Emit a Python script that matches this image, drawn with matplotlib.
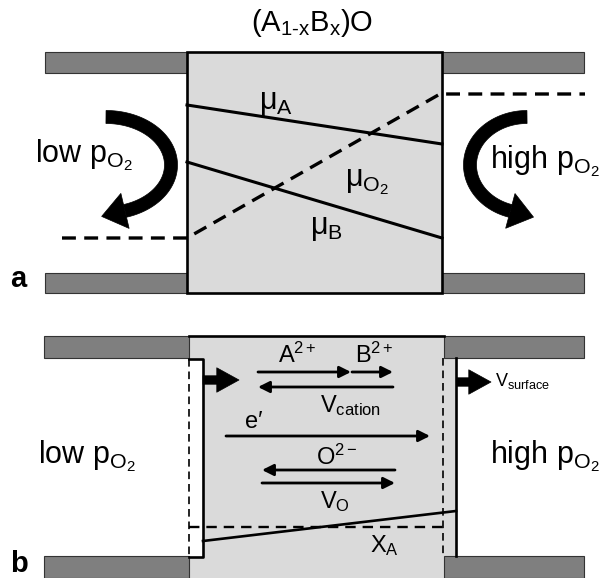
import numpy as np
import matplotlib
matplotlib.use('Agg')
import matplotlib.pyplot as plt
from matplotlib.patches import Rectangle, Polygon

plt.rcParams['font.family'] = ['Liberation Sans', 'DejaVu Sans']
plt.rcParams['mathtext.fontset'] = 'custom'
plt.rcParams['mathtext.rm'] = 'Liberation Sans'
plt.rcParams['mathtext.it'] = 'Liberation Sans'
plt.rcParams['mathtext.bf'] = 'Liberation Sans:bold'
plt.rcParams['mathtext.default'] = 'regular'
plt.rcParams['lines.scale_dashes'] = False

# ---- schematic geometry (pixel coordinates, y grows downward) ----
# panel a
a_bars = [(45, 52, 142, 21), (442, 52, 142, 21), (45, 273, 142, 20), (442, 273, 142, 20)]
a_box = (187, 52, 255, 241)
a_mu_lines = [((187, 105), (442, 144)), ((187, 162), (442, 238))]
a_o2_dashed = [(62, 238), (187, 238), (440, 94), (585, 94)]
a_labels = [('$μ_A$', 259, 109), ('$μ_{O_2}$', 345, 186), ('$μ_B$', 310, 234)]
# curved arrows: centre x, centre y, rx, ry, start angle, end angle
a_curved = [(106, 165, 65, 48, 90, -73), (527, 165, 57, 48, 90, 253)]

# panel b
b_bars = [(44, 336, 145, 22), (444, 336, 140, 22), (44, 556, 145, 22), (444, 556, 140, 22)]
b_box = (189, 336, 255, 242)
b_thin_arrows = [((258, 372), (351, 372)), ((352, 372), (393, 372)), ((393, 387), (258, 387)),
                 ((226, 436), (430, 436)), ((395, 470), (262, 470)), ((262, 483), (395, 483))]
b_thick_arrows = [((203, 380), (239, 380)), ((457, 382), (491, 382))]
b_labels = [('A$^{2+}$', 278, 363, 17), ('B$^{2+}$', 355, 363, 17), ('V$_{cation}$', 320, 412, 17),
            ('e′', 245, 428, 17), ('O$^{2-}$', 316, 465, 17), ('V$_O$', 320, 508, 17),
            ('X$_A$', 370, 552, 17), ('V$_{surface}$', 495, 386, 13)]

fig = plt.figure(figsize=(6.04, 5.78), dpi=100)
ax = fig.add_axes([0, 0, 1, 1])
ax.set_xlim(0, 604)
ax.set_ylim(578, 0)
ax.axis('off')

BAR = '#7f7f7f'
BOX = '#dadada'


def curved_arrow(cx, cy, rx, ry, t0, t1, width=13, head_len=24, head_w=36):
    t = np.radians(np.linspace(t0, t1, 120))
    x = cx + rx * np.cos(t)
    y = cy - ry * np.sin(t)
    dx = np.gradient(x); dy = np.gradient(y)
    L = np.hypot(dx, dy); ux = dx / L; uy = dy / L
    nx, ny = -uy, ux
    outer = np.column_stack([x + nx * width / 2, y + ny * width / 2])
    inner = np.column_stack([x - nx * width / 2, y - ny * width / 2])
    ax.add_patch(Polygon(np.vstack([outer, inner[::-1]]), closed=True, fc='k', ec='k', lw=0.5))
    ex, ey, u1, v1 = x[-1], y[-1], ux[-1], uy[-1]
    tip = (ex + u1 * head_len, ey + v1 * head_len)
    p1 = (ex - v1 * head_w / 2, ey + u1 * head_w / 2)
    p2 = (ex + v1 * head_w / 2, ey - u1 * head_w / 2)
    ax.add_patch(Polygon([tip, p1, p2], closed=True, fc='k', ec='k', lw=0.5))


# ================= panel a =================
ax.add_patch(Rectangle(a_box[:2], a_box[2], a_box[3], fc=BOX, ec='k', lw=1.9, zorder=2))
for x, y, w, h in a_bars:
    ax.add_patch(Rectangle((x, y), w, h, fc=BAR, ec='#333333', lw=0.8, zorder=1))
for p, q in a_mu_lines:
    ax.plot([p[0], q[0]], [p[1], q[1]], color='k', lw=2.2, zorder=3)
xs, ys = zip(*a_o2_dashed)
ax.plot(xs, ys, color='k', lw=2.4, dashes=(10, 6), zorder=3)
for s, x, y in a_labels:
    ax.text(x, y, s, fontsize=22, va='baseline', ha='left', zorder=4)
for c in a_curved:
    curved_arrow(*c)
ax.text(312, 31, '(A$_{1\u2010x}$B$_x$)O', fontsize=21, ha='center', va='baseline')
ax.text(35, 162, 'low p$_{O_2}$', fontsize=22, va='baseline')
ax.text(490, 168, 'high p$_{O_2}$', fontsize=22, va='baseline')
ax.text(10, 287, 'a', fontsize=21, fontweight='bold', va='baseline')

# ================= panel b =================
ax.add_patch(Rectangle(b_box[:2], b_box[2], b_box[3], fc=BOX, ec='none', zorder=1))
# right grown strip and left receded strip
ax.add_patch(Rectangle((444, 358), 12, 198, fc=BOX, ec='none', zorder=1))
ax.add_patch(Rectangle((189, 359), 14, 198, fc='white', ec='none', zorder=2))
for x, y, w, h in b_bars:
    ax.add_patch(Rectangle((x, y), w, h, fc=BAR, ec='#333333', lw=0.8, zorder=3))
ax.plot([189, 444], [336, 336], color='k', lw=1.9, zorder=4)
ax.plot([189, 203, 203, 189], [359, 359, 557, 557], color='k', lw=1.9, zorder=4)
ax.plot([189, 189], [359, 557], color='k', lw=1.2, dashes=(5.5, 3.5), zorder=4)
ax.plot([443, 443], [358, 556], color='k', lw=1.2, dashes=(5.5, 3.5), zorder=4)
ax.plot([456, 456], [358, 556], color='k', lw=1.9, zorder=4)
ax.plot([189, 443], [527, 527], color='k', lw=1.7, dashes=(7.5, 5), zorder=4)
ax.plot([203, 456], [541, 511], color='k', lw=1.9, zorder=4)

for p, q in b_thin_arrows:
    ax.annotate('', xy=q, xytext=p,
                arrowprops=dict(arrowstyle='-|>', lw=2, color='k', mutation_scale=17,
                                shrinkA=0, shrinkB=0), zorder=5)
for p, q in b_thick_arrows:
    ax.annotate('', xy=q, xytext=p,
                arrowprops=dict(arrowstyle='simple,head_length=1.0,head_width=1.1,tail_width=0.38',
                                mutation_scale=16, fc='k', ec='k', lw=0.5,
                                shrinkA=0, shrinkB=0), zorder=5)
for s, x, y, fs in b_labels:
    ax.text(x, y, s, fontsize=fs, va='baseline', ha='left', zorder=6)
ax.text(38, 463, 'low p$_{O_2}$', fontsize=22, va='baseline')
ax.text(490, 463, 'high p$_{O_2}$', fontsize=22, va='baseline')
ax.text(10, 572, 'b', fontsize=21, fontweight='bold', va='baseline')

fig.savefig('out.png', dpi=100)
